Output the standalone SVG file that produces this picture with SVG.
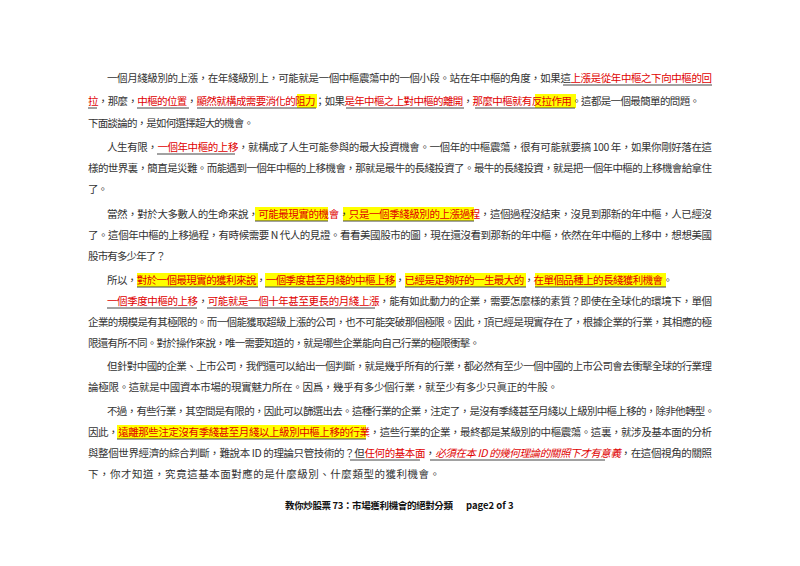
<svg xmlns="http://www.w3.org/2000/svg" width="800" height="566" viewBox="0 0 800 566">
<style>
text{font-family:"Noto Sans CJK TC","Noto Sans CJK SC",sans-serif;font-size:10.5px;fill:#333}
.r{fill:#e00000}
.i{font-style:italic}
.hl{fill:#ffff00}
.ul{stroke:#444;stroke-width:1}
.ft{font-weight:bold;font-size:9.5px;fill:#111}
</style>
<rect width="800" height="566" fill="#fff"/>
<g id="highlights">
<rect class="hl" x="297" y="94" width="20" height="14"/>
<rect class="hl" x="535" y="94" width="41" height="14"/>
<rect class="hl" x="255" y="207" width="73" height="14"/>
<rect class="hl" x="343" y="207" width="131" height="14"/>
<rect class="hl" x="137" y="273" width="121" height="14"/>
<rect class="hl" x="265" y="273" width="131" height="14"/>
<rect class="hl" x="405" y="273" width="121" height="14"/>
<rect class="hl" x="535" y="273" width="131" height="14"/>
<rect class="hl" x="117" y="425" width="249" height="14"/>
</g>
<g id="underlines">
<line class="ul" x1="563" y1="85" x2="712" y2="85"/>
<line class="ul" x1="88" y1="108" x2="97" y2="108"/>
<line class="ul" x1="137" y1="108" x2="189" y2="108"/>
<line class="ul" x1="197" y1="108" x2="316" y2="108"/>
<line class="ul" x1="346" y1="108" x2="464" y2="108"/>
<line class="ul" x1="475" y1="108" x2="575" y2="108"/>
<line class="ul" x1="157" y1="154" x2="235" y2="154"/>
<line class="ul" x1="255" y1="221" x2="328" y2="221"/>
<line class="ul" x1="343" y1="221" x2="474" y2="221"/>
<line class="ul" x1="137" y1="287" x2="258" y2="287"/>
<line class="ul" x1="265" y1="287" x2="396" y2="287"/>
<line class="ul" x1="405" y1="287" x2="526" y2="287"/>
<line class="ul" x1="535" y1="287" x2="666" y2="287"/>
<line class="ul" x1="107" y1="308" x2="197" y2="308"/>
<line class="ul" x1="207" y1="308" x2="375" y2="308"/>
<line class="ul" x1="117" y1="439" x2="366" y2="439"/>
<line class="ul" x1="350" y1="460" x2="420" y2="460"/>
<line class="ul" x1="430" y1="460" x2="605" y2="460"/>
</g>
<g id="body">
<text x="107" y="82" textLength="605" lengthAdjust="spacing">一個月綫級別的上漲，在年綫級別上，可能就是一個中樞震蕩中的一個小段。站在年中樞的角度，如果這<tspan class="r">上漲是從年中樞之下向中樞的回</tspan></text>
<text x="88" y="105" textLength="612" lengthAdjust="spacing"><tspan class="r">拉</tspan>，那麼，<tspan class="r">中樞的位置</tspan>，<tspan class="r">顯然就構成需要消化的阻力</tspan>；如果<tspan class="r">是年中樞之上對中樞的離開</tspan>，<tspan class="r">那麼中樞就有反拉作用</tspan>。這都是一個最簡單的問題。</text>
<text x="88" y="127" textLength="166" lengthAdjust="spacing">下面談論的，是如何選擇超大的機會。</text>

<text x="107" y="151" textLength="605" lengthAdjust="spacing">人生有限，<tspan class="r">一個年中樞的上移</tspan>，就構成了人生可能參與的最大投資機會。一個年的中樞震蕩，很有可能就要搞 100 年，如果你剛好落在這</text>
<text x="88" y="172" textLength="624" lengthAdjust="spacing">樣的世界裏，簡直是災難。而能遇到一個年中樞的上移機會，那就是最牛的長綫投資了。最牛的長綫投資，就是把一個年中樞的上移機會給拿住</text>
<text x="88" y="193" textLength="20" lengthAdjust="spacing">了。</text>

<text x="107" y="218" textLength="605" lengthAdjust="spacing">當然，對於大多數人的生命來說，<tspan class="r">可能最現實的機會</tspan>，<tspan class="r">只是一個季綫級別的上漲過程</tspan>，這個過程沒結束，沒見到那新的年中樞，人已經沒</text>
<text x="88" y="239" textLength="624" lengthAdjust="spacing">了。這個年中樞的上移過程，有時候需要 N 代人的見證。看看美國股市的圖，現在還沒看到那新的年中樞，依然在年中樞的上移中，想想美國</text>
<text x="88" y="260" textLength="78" lengthAdjust="spacing">股市有多少年了？</text>

<text x="107" y="284" textLength="566" lengthAdjust="spacing">所以，<tspan class="r">對於一個最現實的獲利來說</tspan>，<tspan class="r">一個季度甚至月綫的中樞上移</tspan>，<tspan class="r">已經是足夠好的一生最大的</tspan>，<tspan class="r">在單個品種上的長綫獲利機會</tspan>。</text>
<text x="107" y="305" textLength="605" lengthAdjust="spacing"><tspan class="r">一個季度中樞的上移</tspan>，<tspan class="r">可能就是一個十年甚至更長的月綫上漲</tspan>，能有如此動力的企業，需要怎麼樣的素質？即使在全球化的環境下，單個</text>
<text x="88" y="326" textLength="624" lengthAdjust="spacing">企業的規模是有其極限的。而一個能獲取超級上漲的公司，也不可能突破那個極限。因此，頂已經是現實存在了，根據企業的行業，其相應的極</text>
<text x="88" y="347" textLength="392" lengthAdjust="spacing">限還有所不同。對於操作來說，唯一需要知道的，就是哪些企業能向自己行業的極限衝擊。</text>

<text x="107" y="370" textLength="605" lengthAdjust="spacing">但針對中國的企業、上市公司，我們還可以給出一個判斷，就是幾乎所有的行業，都必然有至少一個中國的上市公司會去衝擊全球的行業理</text>
<text x="88" y="391" textLength="470" lengthAdjust="spacing">論極限。這就是中國資本市場的現實魅力所在。因爲，幾乎有多少個行業，就至少有多少只眞正的牛股。</text>

<text x="107" y="415" textLength="608" lengthAdjust="spacing">不過，有些行業，其空間是有限的，因此可以篩選出去。這種行業的企業，注定了，是沒有季綫甚至月綫以上級別中樞上移的，除非他轉型。</text>
<text x="88" y="436" textLength="624" lengthAdjust="spacing">因此，<tspan class="r">遠離那些注定沒有季綫甚至月綫以上級別中樞上移的行業</tspan>，這些行業的企業，最終都是某級別的中樞震蕩。這裏，就涉及基本面的分析</text>
<text x="88" y="457" textLength="624" lengthAdjust="spacing">與整個世界經濟的綜合判斷，難說本 ID 的理論只管技術的？但<tspan class="r">任何的基本面</tspan>，<tspan class="r i">必須在本 ID 的幾何理論的關照下才有意義</tspan>，在這個視角的關照</text>
<text x="88" y="478" textLength="352" lengthAdjust="spacing">下，你才知道，究竟這基本面對應的是什麼級別、什麼類型的獲利機會。</text>
</g>
<g id="footer">
<text class="ft" x="285" y="509" textLength="168" lengthAdjust="spacing">教你炒股票 73：市場獲利機會的絕對分類</text>
<text class="ft" x="466" y="509" font-family="Liberation Sans, sans-serif">page2 of 3</text>
</g>
</svg>
